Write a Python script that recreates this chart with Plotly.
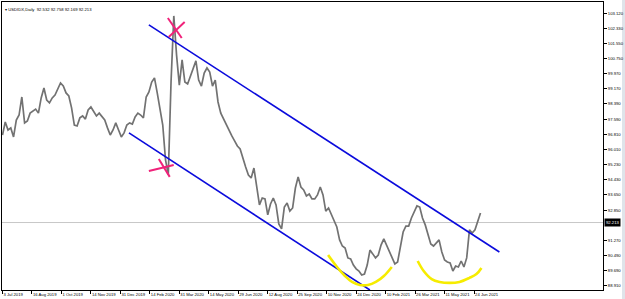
import plotly.graph_objects as go

# ---- data (daily closes, sampled every 3 bars) ----
step = 3
close = [96.77, 97.45, 97.03, 97.14, 96.67, 97.55, 97.81, 98.75, 97.40, 97.50,
         97.91, 98.02, 98.12, 97.91, 98.70, 99.22, 98.59, 98.44, 98.70, 98.85,
         99.17, 99.48, 99.32, 98.96, 98.80, 98.18, 97.29, 97.24, 97.66, 97.76,
         97.60, 98.07, 98.23, 98.02, 97.76, 97.91, 97.71, 97.55, 97.14, 96.77,
         97.03, 97.40, 97.03, 96.67, 96.88, 97.29, 97.40, 97.34, 97.71, 97.91,
         97.81, 97.66, 98.75, 99.01, 99.53, 99.74, 98.96, 98.18, 97.29, 95.47,
         94.69, 99.53, 102.97, 100.93, 99.37, 100.68, 99.53, 99.43, 99.84, 100.16,
         100.63, 99.63, 99.32, 100.00, 100.26, 100.05, 99.32, 99.63, 98.49, 97.91,
         97.60, 97.29, 96.98, 96.72, 96.46, 96.20, 96.04, 95.52, 95.10, 94.69,
         94.53, 95.05, 94.01, 93.13, 93.49, 93.44, 92.61, 93.18, 93.49, 93.13,
         92.14, 91.88, 93.02, 93.23, 92.81, 92.97, 94.01, 94.59, 94.06, 93.91,
         93.60, 93.70, 93.44, 93.44, 93.65, 94.06, 93.65, 92.81, 92.97, 92.61,
         92.29, 91.98, 91.31, 90.99, 90.89, 90.37, 90.32, 90.00, 89.80, 89.69,
         89.48, 89.53, 90.00, 90.78, 90.58, 90.37, 90.52, 91.04, 91.36, 91.04,
         90.68, 90.37, 90.06, 90.16, 90.89, 91.72, 92.03, 92.03, 92.45, 92.81,
         93.08, 93.02, 92.45, 92.09, 91.62, 91.10, 90.99, 91.15, 91.31, 90.68,
         90.26, 90.16, 90.11, 89.69, 89.95, 89.90, 90.21, 89.90, 90.37, 91.83,
         91.67, 91.83, 92.24, 92.71]
bars = [i * step for i in range(len(close))]

x_tick_bars = [0, 32, 64, 96, 128, 160, 192, 224, 256, 288, 320, 352, 384, 416, 448, 480, 512]
x_tick_labels = ["3 Jul 2019", "16 Aug 2019", "1 Oct 2019", "14 Nov 2019", "31 Dec 2019",
                 "14 Feb 2020", "31 Mar 2020", "14 May 2020", "29 Jun 2020", "12 Aug 2020",
                 "25 Sep 2020", "10 Nov 2020", "24 Dec 2020", "10 Feb 2021", "26 Mar 2021",
                 "11 May 2021", "24 Jun 2021"]
y_tick_vals = [103.12, 102.33, 101.55, 100.75, 99.97, 99.17, 98.39, 97.59, 96.81, 96.01,
               95.23, 94.43, 93.65, 92.85, 91.27, 90.49, 89.69, 88.91]

last_price = 92.213
ohlc_text = "USDIDX,Daily  92.532 92.758 92.169 92.213"

# trend channel (bar, price)
upper_bars = [158.9, 539.5]
upper_prices = [102.50, 90.68]
lower_bars = [137.3, 398.9]
lower_prices = [96.88, 88.70]

# pink cross marks
cross_top_a = ([179.5, 194.6], [102.86, 101.82])
cross_top_b = ([180.5, 197.8], [101.87, 102.65])
cross_bot_c = ([158.9, 185.9], [94.90, 95.21])
cross_bot_d = ([169.7, 181.6], [95.52, 94.59])

# yellow rounded-bottom marks
yellow1_bars = [353.5, 363.2, 371.9, 379.5, 388.1, 396.8, 405.4, 414.1, 422.7]
yellow1_prices = [90.52, 89.90, 89.43, 89.12, 88.96, 88.96, 89.12, 89.43, 89.90]
yellow2_bars = [450.8, 457.3, 466.0, 474.6, 485.4, 496.2, 507.0, 514.6, 520.0]
yellow2_prices = [90.21, 89.69, 89.27, 89.12, 89.07, 89.12, 89.33, 89.53, 89.85]

FONT = "Liberation Sans, Arial, sans-serif"

fig = go.Figure()

# bid line
fig.add_trace(go.Scatter(x=[-10, 700], y=[last_price, last_price], mode="lines",
                         line=dict(color="#c8c8c8", width=1), hoverinfo="skip"))
# price line
fig.add_trace(go.Scatter(x=bars, y=close, mode="lines",
                         line=dict(color="#727272", width=1.7)))
# channel
for bx, py in [(upper_bars, upper_prices), (lower_bars, lower_prices)]:
    fig.add_trace(go.Scatter(x=bx, y=py, mode="lines", line=dict(color="#0b0bdc", width=1.6)))
# yellow
for bx, py in [(yellow1_bars, yellow1_prices), (yellow2_bars, yellow2_prices)]:
    fig.add_trace(go.Scatter(x=bx, y=py, mode="lines",
                             line=dict(color="#f6ec00", width=2.6, shape="spline")))
# pink crosses
for bx, py in [cross_top_a, cross_top_b, cross_bot_c, cross_bot_d]:
    fig.add_trace(go.Scatter(x=bx, y=py, mode="lines", line=dict(color="#f0227a", width=2)))

fig.update_layout(
    width=625, height=299,
    margin=dict(l=2, r=22, t=2, b=9, autoexpand=False),
    paper_bgcolor="white", plot_bgcolor="white",
    showlegend=False,
    font=dict(family=FONT, size=4, color="black"),
)
fig.update_xaxes(
    range=[-0.54, 652], tickvals=x_tick_bars, ticktext=x_tick_labels,
    ticks="outside", ticklen=3, tickcolor="black", tickwidth=1, tickangle=0,
    ticklabelposition="outside right", tickfont=dict(family=FONT, size=4.2), automargin=False,
    ticklabelstandoff=0,
    showgrid=False, zeroline=False, showline=True, linecolor="black", linewidth=1, mirror=True,
)
fig.update_yaxes(
    range=[88.70, 103.695], side="right", tickvals=y_tick_vals,
    ticktext=[f"{v:.3f}" for v in y_tick_vals], automargin=False,
    ticks="outside", ticklen=3, tickcolor="black", tickwidth=1, tickfont=dict(family=FONT, size=4.2),
    ticklabelstandoff=0,
    showgrid=False, zeroline=False, showline=True, linecolor="black", linewidth=1, mirror=True,
)

fig.add_annotation(x=0, y=1, xref="paper", yref="paper", xanchor="left", yanchor="top",
                   text="▾ " + ohlc_text, showarrow=False, xshift=1, yshift=-3,
                   font=dict(family=FONT, size=4.2, color="black"))
fig.add_annotation(x=1, y=last_price, xref="paper", yref="y", xanchor="left", yanchor="middle",
                   text=f"{last_price:.3f}", showarrow=False, xshift=1, bgcolor="black",
                   borderpad=1, font=dict(family=FONT, size=4.2, color="white"))
fig.add_shape(type="rect", xref="paper", yref="paper", x0=1.0316, x1=1.04, y0=-0.05, y1=1.01,
              fillcolor="#dfe4ea", line=dict(width=0), layer="below")

fig.write_html("out.html")
